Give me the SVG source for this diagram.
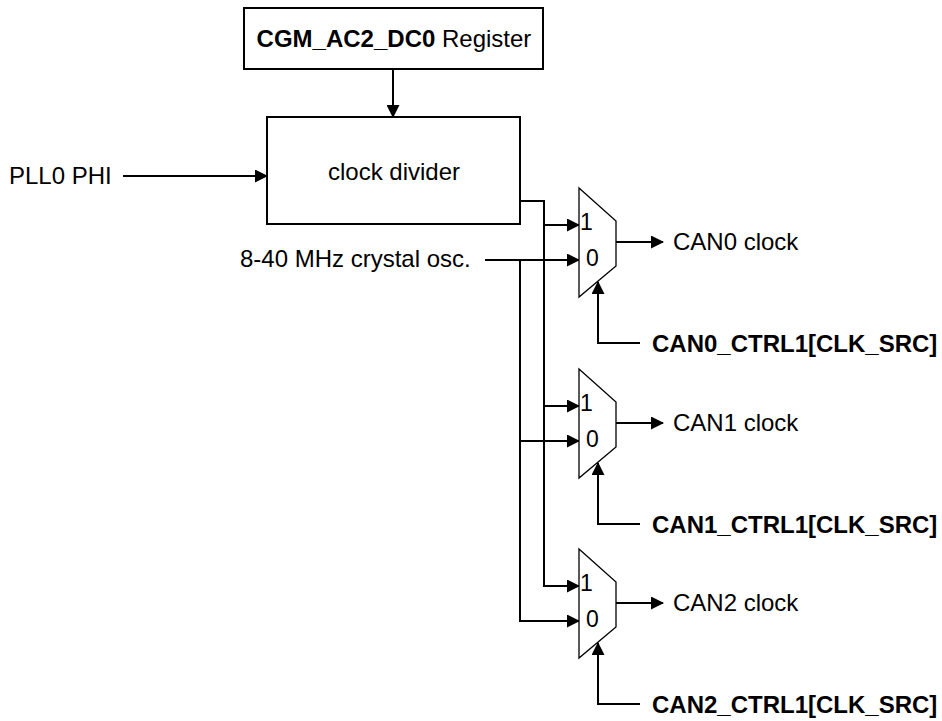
<svg xmlns="http://www.w3.org/2000/svg" width="942" height="721" viewBox="0 0 942 721">
<style>
  text { font-family: "Liberation Sans", Arial, Helvetica, sans-serif; font-size: 24px; fill: #000; }
  .b { font-weight: bold; }
  .sel { font-weight: bold; }
  .io { font-size: 23px; }
  .box { fill: #fff; stroke: #000; stroke-width: 2; }
  .mux { fill: #fff; stroke: #000; stroke-width: 1.3; }
  .wa { fill: none; stroke: #000; stroke-width: 2; marker-end: url(#ah); }
</style>
<defs>
  <marker id="ah" viewBox="0 0 13 13" refX="12" refY="6.5" markerWidth="13" markerHeight="13" markerUnits="userSpaceOnUse" orient="auto">
    <path d="M0,0 L13,6.5 L0,13 z" fill="#000"/>
  </marker>
</defs>

<g id="connectors">
  <path class="wa" d="M393,69 V117"/>
  <path class="wa" d="M123,176 H267"/>
  <path class="wa" d="M520,201 H544 V586 H579"/>
  <path class="wa" d="M544,225 H579"/>
  <path class="wa" d="M544,406 H579"/>
  <path class="wa" d="M485,260 H579"/>
  <path class="wa" d="M520,260 V621 H579"/>
  <path class="wa" d="M520,441 H579"/>
  <path class="wa" d="M616,242 H663"/>
  <path class="wa" d="M616,423 H663"/>
  <path class="wa" d="M616,603 H663"/>
  <path class="wa" d="M640,343 H598 V282"/>
  <path class="wa" d="M640,524 H598 V463"/>
  <path class="wa" d="M640,704 H598 V643"/>
</g>

<g id="register">
  <rect class="box" x="244" y="8" width="299" height="61"/>
  <text x="394" y="47" text-anchor="middle"><tspan class="b">CGM_AC2_DC0</tspan> Register</text>
</g>

<g id="clock-divider">
  <rect class="box" x="267" y="117" width="253" height="107"/>
  <text x="394" y="180" text-anchor="middle">clock divider</text>
</g>

<g id="pll0-phi">
  <text x="9" y="184">PLL0 PHI</text>
</g>

<g id="crystal-osc">
  <text x="240" y="267">8-40 MHz crystal osc.</text>
</g>

<g id="mux0">
  <polygon class="mux" points="579,188 616,221 616,266 579,297"/>
  <text class="io" x="580" y="230">1</text>
  <text class="io" x="586" y="266">0</text>
</g>
<g id="can0-clock">
  <text x="673" y="250">CAN0 clock</text>
</g>
<g id="can0-sel">
  <text class="sel" x="652" y="352">CAN0_CTRL1[CLK_SRC]</text>
</g>

<g id="mux1">
  <polygon class="mux" points="579,369 616,402 616,447 579,478"/>
  <text class="io" x="580" y="411">1</text>
  <text class="io" x="586" y="447">0</text>
</g>
<g id="can1-clock">
  <text x="673" y="431">CAN1 clock</text>
</g>
<g id="can1-sel">
  <text class="sel" x="652" y="533">CAN1_CTRL1[CLK_SRC]</text>
</g>

<g id="mux2">
  <polygon class="mux" points="579,549 616,582 616,627 579,658"/>
  <text class="io" x="580" y="591">1</text>
  <text class="io" x="586" y="627">0</text>
</g>
<g id="can2-clock">
  <text x="673" y="611">CAN2 clock</text>
</g>
<g id="can2-sel">
  <text class="sel" x="652" y="713">CAN2_CTRL1[CLK_SRC]</text>
</g>
</svg>
